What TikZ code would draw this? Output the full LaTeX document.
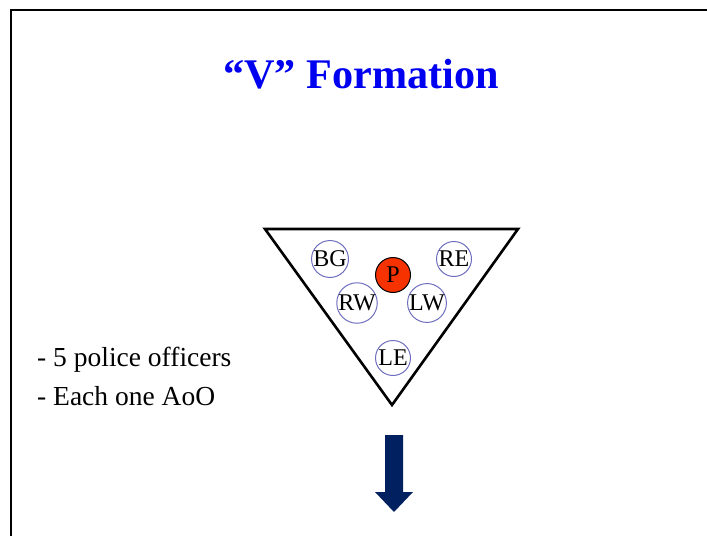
\documentclass[tikz,border=0pt]{standalone}
\usepackage{fontspec}
\setmainfont{Liberation Serif}
\definecolor{titleblue}{RGB}{0,0,240}
\definecolor{ringblue}{RGB}{110,110,190}
\definecolor{pred}{RGB}{245,50,0}
\definecolor{navy}{RGB}{0,32,96}
\begin{document}
\begin{tikzpicture}[x=1pt,y=-1pt,
  officer/.style={circle,draw=ringblue,line width=1pt,minimum size=35pt,inner sep=0pt,
    font=\fontsize{24}{24}\selectfont},
  principal/.style={circle,draw=black,fill=pred,line width=1pt,minimum size=35pt,inner sep=0pt,
    font=\fontsize{24}{24}\selectfont},
  bullet/.style={anchor=base west,inner sep=0pt,font=\fontsize{27.5}{27.5}\selectfont}]
\useasboundingbox (0,0) rectangle (707,536);
% frame
\draw[line width=1.5pt] (11,536) -- (11,10) -- (707,10);
% title
\node[anchor=base,inner sep=0pt,text=titleblue,font=\fontsize{42.2}{42.2}\selectfont\bfseries] (title) at (361,88) {“V” Formation};
% triangle
\coordinate (tl) at (265,229);
\coordinate (tr) at (518,229);
\coordinate (bt) at (392,405);
\draw[line width=2.6pt,line join=miter] (tl) -- (tr) -- (bt) -- cycle;
% officers
\node[officer] (BG) at (330,259) {BG};
\node[officer] (RE) at (454,259) {RE};
\node[principal] (P) at (393,275) {P};
\node[officer] (RW) at (357,303) {RW};
\node[officer] (LW) at (427,303) {LW};
\node[officer] (LE) at (393,358) {LE};
% bullets
\node[bullet] (b1) at (37,366) {- 5 police officers};
\node[bullet] (b2) at (37,405) {- Each one AoO};
% arrow
\fill[navy] (385,435) -- (403,435) -- (403,492) -- (413,492) -- (394,512) -- (375,492) -- (385,492) -- cycle;
\end{tikzpicture}
\end{document}
